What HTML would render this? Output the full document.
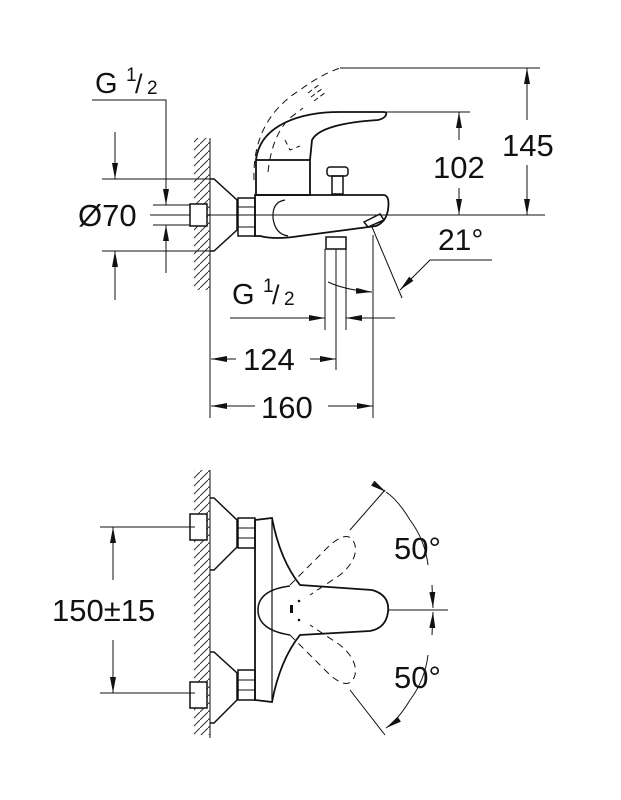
<!DOCTYPE html>
<html><head><meta charset="utf-8"><style>
html,body{margin:0;padding:0;background:#fff}
svg{display:block}
text{font-family:"Liberation Sans",sans-serif;fill:#111}
</style></head><body>
<svg width="621" height="800" viewBox="0 0 621 800" xmlns="http://www.w3.org/2000/svg">
<defs>
<marker id="b" viewBox="0 0 16 6" refX="16" refY="3" markerWidth="16" markerHeight="6" orient="auto" markerUnits="userSpaceOnUse"><path d="M0,0L16,3L0,6z" fill="#111"/></marker>
<pattern id="h" width="8" height="8" patternUnits="userSpaceOnUse"><path d="M0,8L8,0" stroke="#333" stroke-width="1"/></pattern>
</defs>
<g fill="none" stroke="#111" stroke-width="1">
<!-- TOP VIEW -->
<rect x="194" y="138" width="16" height="152" fill="url(#h)" stroke="none"/>
<line x1="210" y1="138" x2="210" y2="418"/>
<line x1="150" y1="215" x2="545" y2="215"/>
<path d="M210,179H214L237,200V230L214,251H210" stroke-width="1.5"/>
<rect x="190" y="204" width="17" height="22" stroke-width="1.5" fill="#fff"/>
<rect x="238" y="198" width="17" height="38" stroke-width="1.5"/>
<line x1="238" y1="207" x2="255" y2="207"/><line x1="238" y1="227" x2="255" y2="227"/>
<path d="M255,195H384Q390,196 388,210Q386,222 376,226Q330,232 300,236Q275,240 260,236H255Z" stroke-width="1.8"/>
<path d="M285,200Q272,202 273,218Q275,234 288,236" stroke-width="1.2"/>
<rect x="256" y="160" width="54" height="35" stroke-width="1.8"/>
<path d="M256,160C260,125 300,112 340,112L384,112C388,112 387,118 378,120C345,122 318,128 312,140L310,160" stroke-width="1.8"/>
<path d="M254,180Q252,120 300,90Q320,75 340,68" stroke-dasharray="7,5"/>
<path d="M268,172Q272,135 290,118L303,108" stroke-dasharray="7,5"/>
<path d="M285,140L290,150L300,146" stroke-dasharray="5,4"/>
<path d="M308,93L320,84M311,97L323,88M314,101L326,92" stroke-dasharray="5,3"/>
<rect x="327" y="167" width="21" height="9" rx="3" stroke-width="1.5"/>
<rect x="332" y="176" width="11" height="18" stroke-width="1.5"/>
<path d="M364,222L380,214L384,220L368,227Z" stroke-width="1.5"/>
<line x1="372" y1="227" x2="402" y2="298"/>
<rect x="326" y="237" width="20" height="12" stroke-width="1.5"/>
<line x1="325" y1="249" x2="325" y2="330"/>
<line x1="336" y1="249" x2="336" y2="370"/>
<line x1="346" y1="249" x2="346" y2="330"/>
<line x1="373" y1="235" x2="373" y2="418"/>
<line x1="340" y1="68" x2="540" y2="68"/>
<line x1="384" y1="112" x2="470" y2="112"/>
<line x1="527" y1="120" x2="527" y2="68" marker-end="url(#b)"/>
<line x1="527" y1="165" x2="527" y2="215" marker-end="url(#b)"/>
<line x1="459" y1="140" x2="459" y2="112" marker-end="url(#b)"/>
<line x1="459" y1="188" x2="459" y2="215" marker-end="url(#b)"/>
<polyline points="492,260 430,260 400,290" marker-end="url(#b)"/>
<path d="M328,282Q345,290 372,292" marker-end="url(#b)"/>
<line x1="230" y1="318" x2="325" y2="318" marker-end="url(#b)"/>
<line x1="395" y1="318" x2="346" y2="318" marker-end="url(#b)"/>
<line x1="236" y1="359" x2="211" y2="359" marker-end="url(#b)"/>
<line x1="310" y1="359" x2="336" y2="359" marker-end="url(#b)"/>
<line x1="255" y1="406" x2="211" y2="406" marker-end="url(#b)"/>
<line x1="328" y1="406" x2="373" y2="406" marker-end="url(#b)"/>
<polyline points="92,100 166,100 166,205" marker-end="url(#b)"/>
<line x1="166" y1="273" x2="166" y2="225" marker-end="url(#b)"/>
<line x1="153" y1="205" x2="190" y2="205"/>
<line x1="153" y1="225" x2="190" y2="225"/>
<line x1="102" y1="179" x2="213" y2="179"/>
<line x1="102" y1="251" x2="213" y2="251"/>
<line x1="115" y1="132" x2="115" y2="179" marker-end="url(#b)"/>
<line x1="115" y1="300" x2="115" y2="251" marker-end="url(#b)"/>

<!-- BOTTOM VIEW -->
<rect x="194" y="470" width="16" height="265" fill="url(#h)" stroke="none"/>
<line x1="210" y1="470" x2="210" y2="738"/>
<path d="M210,498H214L237,520V547L214,570H210" stroke-width="1.5"/>
<path d="M210,652H214L237,673V700L214,723H210" stroke-width="1.5"/>
<rect x="190" y="514" width="17" height="26" fill="#fff" stroke-width="1.5"/>
<rect x="190" y="682" width="17" height="26" fill="#fff" stroke-width="1.5"/>
<rect x="238" y="518" width="17" height="30" stroke-width="1.5"/>
<rect x="238" y="670" width="17" height="30" stroke-width="1.5"/>
<line x1="238" y1="528" x2="255" y2="528"/><line x1="238" y1="538" x2="255" y2="538"/>
<line x1="238" y1="680" x2="255" y2="680"/><line x1="238" y1="690" x2="255" y2="690"/>
<path d="M255,520L272,518Q280,560 300,585L372,590Q390,595 388,612Q386,628 370,631L300,635Q280,660 272,702L255,700Z" stroke-width="1.8"/>
<path d="M290,586Q258,590 258,610Q258,630 290,635" stroke-width="1.5"/>
<line x1="272" y1="520" x2="272" y2="700" stroke-width="1.2"/>
<rect x="290" y="605" width="3" height="8" fill="#111" stroke="none"/>
<circle cx="299" cy="601" r="0.8" fill="#111"/><circle cx="299" cy="620" r="0.8" fill="#111"/>
<path d="M290,585L330,545Q350,528 355,545Q358,560 340,575L310,595" stroke-dasharray="7,5"/>
<path d="M290,635L330,675Q350,692 355,675Q358,660 340,645L310,625" stroke-dasharray="7,5"/>
<line x1="350" y1="530" x2="385" y2="490"/>
<line x1="350" y1="690" x2="385" y2="735"/>
<line x1="388" y1="610" x2="448" y2="610"/>
<path d="M410,520Q425,540 428,565"/>
<path d="M386,492Q398,500 410,520" marker-start="url(#b)"/>
<line x1="432" y1="585" x2="433" y2="608" marker-end="url(#b)"/>
<line x1="432" y1="635" x2="433" y2="612" marker-end="url(#b)"/>
<path d="M410,700Q425,680 428,655"/>
<path d="M410,700Q398,720 386,728" marker-end="url(#b)"/>
<line x1="100" y1="527" x2="195" y2="527"/>
<line x1="100" y1="693" x2="195" y2="693"/>
<line x1="113" y1="580" x2="113" y2="527" marker-end="url(#b)"/>
<line x1="113" y1="640" x2="113" y2="693" marker-end="url(#b)"/>
</g>
<text x="95" y="93" font-size="29">G</text><text x="126" y="81" font-size="19">1</text><text x="135" y="93" font-size="27">/</text><text x="147" y="94" font-size="19">2</text>
<text x="78" y="226" font-size="31">Ø70</text>
<text x="433" y="178" font-size="31">102</text>
<text x="502" y="156" font-size="31">145</text>
<text x="438" y="250" font-size="30">21°</text>
<text x="232" y="304" font-size="29">G</text><text x="263" y="292" font-size="19">1</text><text x="272" y="304" font-size="27">/</text><text x="284" y="305" font-size="19">2</text>
<text x="243" y="370" font-size="31">124</text>
<text x="261" y="418" font-size="31">160</text>
<text x="52" y="621" font-size="31">150±15</text>
<text x="394" y="559" font-size="31">50°</text>
<text x="394" y="688" font-size="31">50°</text>
</svg>
</body></html>
